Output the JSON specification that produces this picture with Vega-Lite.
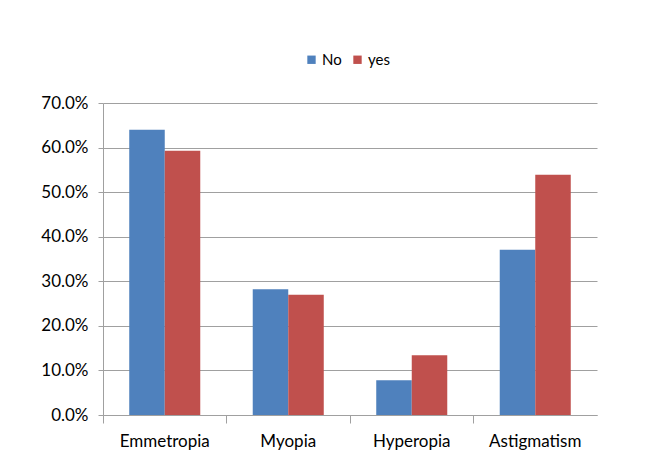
{
  "$schema": "https://vega.github.io/schema/vega-lite/v6.json",
  "autosize": "none",
  "width": 494,
  "height": 312,
  "padding": {"left": 103, "top": 103, "right": 63, "bottom": 61},
  "background": "white",
  "data": {
    "values": [
      {"condition": "Emmetropia", "group": "No", "value": 0.640},
      {"condition": "Emmetropia", "group": "yes", "value": 0.593},
      {"condition": "Myopia", "group": "No", "value": 0.282},
      {"condition": "Myopia", "group": "yes", "value": 0.270},
      {"condition": "Hyperopia", "group": "No", "value": 0.078},
      {"condition": "Hyperopia", "group": "yes", "value": 0.134},
      {"condition": "Astigmatism", "group": "No", "value": 0.371},
      {"condition": "Astigmatism", "group": "yes", "value": 0.539}
    ]
  },
  "mark": {"type": "bar"},
  "encoding": {
    "x": {
      "field": "condition",
      "type": "nominal",
      "sort": ["Emmetropia", "Myopia", "Hyperopia", "Astigmatism"],
      "scale": {"paddingInner": 0, "paddingOuter": 0},
      "axis": {
        "title": null,
        "labelAngle": 0,
        "bandPosition": 0,
        "tickSize": 8,
        "labelPadding": 10,
        "domainColor": "#A0A0A0",
        "tickColor": "#A0A0A0",
        "labelFont": "Lato",
        "labelFontSize": 17,
        "labelColor": "#000000",
        "grid": false
      }
    },
    "xOffset": {
      "field": "group",
      "type": "nominal",
      "scale": {"paddingInner": 0, "paddingOuter": 0.739}
    },
    "y": {
      "field": "value",
      "type": "quantitative",
      "scale": {"domain": [0, 0.7], "nice": false},
      "axis": {
        "title": null,
        "format": ".1%",
        "values": [0, 0.1, 0.2, 0.3, 0.4, 0.5, 0.6, 0.7],
        "labelOverlap": false,
        "tickSize": 5,
        "labelPadding": 10,
        "domainColor": "#A0A0A0",
        "tickColor": "#A0A0A0",
        "gridColor": "#A0A0A0",
        "gridWidth": 1,
        "labelFont": "Lato",
        "labelFontSize": 17,
        "labelColor": "#000000"
      }
    },
    "color": {
      "field": "group",
      "type": "nominal",
      "scale": {"domain": ["No", "yes"], "range": ["#4F81BD", "#C0504D"]},
      "legend": {
        "title": null,
        "orient": "none",
        "direction": "horizontal",
        "legendX": 201,
        "legendY": -51,
        "symbolType": "square",
        "symbolSize": 70,
        "symbolStrokeWidth": 0,
        "labelFont": "Lato",
        "labelFontSize": 15,
        "labelColor": "#000000",
        "columnPadding": 8,
        "labelOffset": 3
      }
    }
  },
  "config": {
    "view": {"stroke": null}
  }
}
